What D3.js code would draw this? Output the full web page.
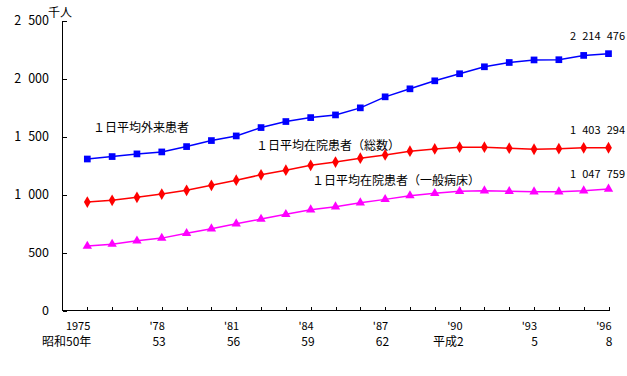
<!DOCTYPE html>
<html>
<head>
<meta charset="utf-8">
<script src="https://cdn.jsdelivr.net/npm/d3@7"></script>
<style>
  body { margin: 0; background: #fff; }
  svg text { font-family: "Noto Sans CJK JP", "Noto Sans", sans-serif; font-size: 12px; fill: #000; }
  svg .ylab { font-size: 12.5px; }
  svg .yr { font-size: 11px; }
  svg .endlab { font-size: 11px; }
</style>
</head>
<body>
<div id="chart"></div>
<script>
// years on the x axis
const years = d3.range(1975, 1997);

// values in thousands of persons
const outpatients = [1306, 1327, 1350, 1367, 1413, 1465, 1505, 1577, 1629, 1663, 1686,
    1747, 1842, 1911, 1980, 2041, 2101, 2138, 2160, 2162, 2199, 2214];
const inpatientsTotal = [935, 950, 976, 1004, 1036, 1079, 1123, 1170, 1210, 1252, 1280,
    1313, 1341, 1373, 1393, 1408, 1408, 1399, 1390, 1395, 1402, 1403];
const inpatientsGeneral = [555, 572, 601, 624, 665, 705, 748, 788, 829, 869, 895,
    929, 958, 990, 1010, 1027, 1033, 1027, 1024, 1024, 1033, 1048];

const seriesNames = ["１日平均外来患者", "１日平均在院患者（総数）", "１日平均在院患者（一般病床）"];
const endLabels = ["2\u2007214\u2007476", "1\u2007403\u2007294", "1\u2007047\u2007759"];

const labelYears = [1975, 1978, 1981, 1984, 1987, 1990, 1993, 1996];
const yearLabels = ["1975", "'78", "'81", "'84", "'87", "'90", "'93", "'96"];
const eraLabels = ["昭和50年", "53", "56", "59", "62", "平成2", "5", "8"];
const yTicks = [0, 500, 1000, 1500, 2000, 2500];

function drawChart() {
    const dimensions = { width: 627, height: 376 };

    const xScale = d3.scaleLinear().domain([1974, 1996]).range([62.5, 608.5]);
    const yScale = d3.scaleLinear().domain([0, 2500]).range([310.5, 20.5]);

    const wrapper = d3.select("#chart").append("svg")
        .attr("width", dimensions.width)
        .attr("height", dimensions.height);

    //AXES
    // thousands separated by a digit-wide space
    const fmt = v => d3.format(",")(v).replace(",", "\u2007");
    const yAxis = d3.axisRight(yScale).tickValues(yTicks).tickSize(4).tickFormat("");
    const yG = wrapper.append("g").attr("transform", "translate(62.5,0)").call(yAxis);
    yG.select(".domain").attr("d", `M0,${yScale(2500)}V${yScale(0)}`);

    wrapper.append("g").selectAll("text")
        .data(yTicks)
        .enter().append("text")
        .attr("class", "ylab")
        .attr("x", 49)
        .attr("y", d => yScale(d))
        .attr("dy", "0.35em")
        .attr("text-anchor", "end")
        .text(fmt);

    wrapper.append("text").attr("x", 48).attr("y", 17).text("千人");

    const xAxis = d3.axisTop(xScale).tickValues(years).tickSize(4).tickFormat("");
    const xG = wrapper.append("g").attr("transform", `translate(0,${yScale(0)})`).call(xAxis);
    xG.select(".domain").attr("d", `M${xScale(1974)},0H${xScale(1996) + 1}`);
    wrapper.selectAll(".tick line, .domain").attr("stroke", "#000").attr("shape-rendering", "crispEdges");

    wrapper.append("g").selectAll("text")
        .data(labelYears)
        .enter().append("text")
        .attr("class", "yr")
        .attr("x", d => xScale(d) + 3)
        .attr("y", 330)
        .attr("text-anchor", "end")
        .text((d, i) => yearLabels[i]);

    wrapper.append("g").selectAll("text")
        .data(labelYears)
        .enter().append("text")
        .attr("x", d => xScale(d) + 4)
        .attr("y", 346)
        .attr("text-anchor", "end")
        .text((d, i) => eraLabels[i]);

    //SERIES
    const series = [
        { values: outpatients, color: "#0000ff", symbol: d3.symbolSquare, size: 45 },
        { values: inpatientsTotal, color: "#ff0000", symbol: d3.symbolDiamond, size: 40 },
        { values: inpatientsGeneral, color: "#ff00ff", symbol: d3.symbolTriangle, size: 38 },
    ];

    const line = d3.line()
        .x((d, i) => xScale(years[i]))
        .y(d => yScale(d));

    series.forEach(s => {
        wrapper.append("path")
            .attr("d", line(s.values))
            .attr("fill", "none")
            .attr("stroke", s.color)
            .attr("stroke-width", 1.5);

        wrapper.append("g").selectAll("path")
            .data(s.values)
            .enter().append("path")
            .attr("d", d3.symbol().type(s.symbol).size(s.size))
            .attr("transform", (d, i) => `translate(${xScale(years[i])},${yScale(d)})`)
            .attr("fill", s.color);
    });

    //LABELS
    const nameX = [93, 256, 312];
    const nameY = [132, 150, 185];
    wrapper.append("g").selectAll("text")
        .data(seriesNames)
        .enter().append("text")
        .attr("x", (d, i) => nameX[i])
        .attr("y", (d, i) => nameY[i])
        .text(d => d);

    const endY = [40, 134, 178];
    wrapper.append("g").selectAll("text")
        .data(endLabels)
        .enter().append("text")
        .attr("class", "endlab")
        .attr("x", 625)
        .attr("y", (d, i) => endY[i])
        .attr("text-anchor", "end")
        .text(d => d);
}

drawChart();
</script>
</body>
</html>
